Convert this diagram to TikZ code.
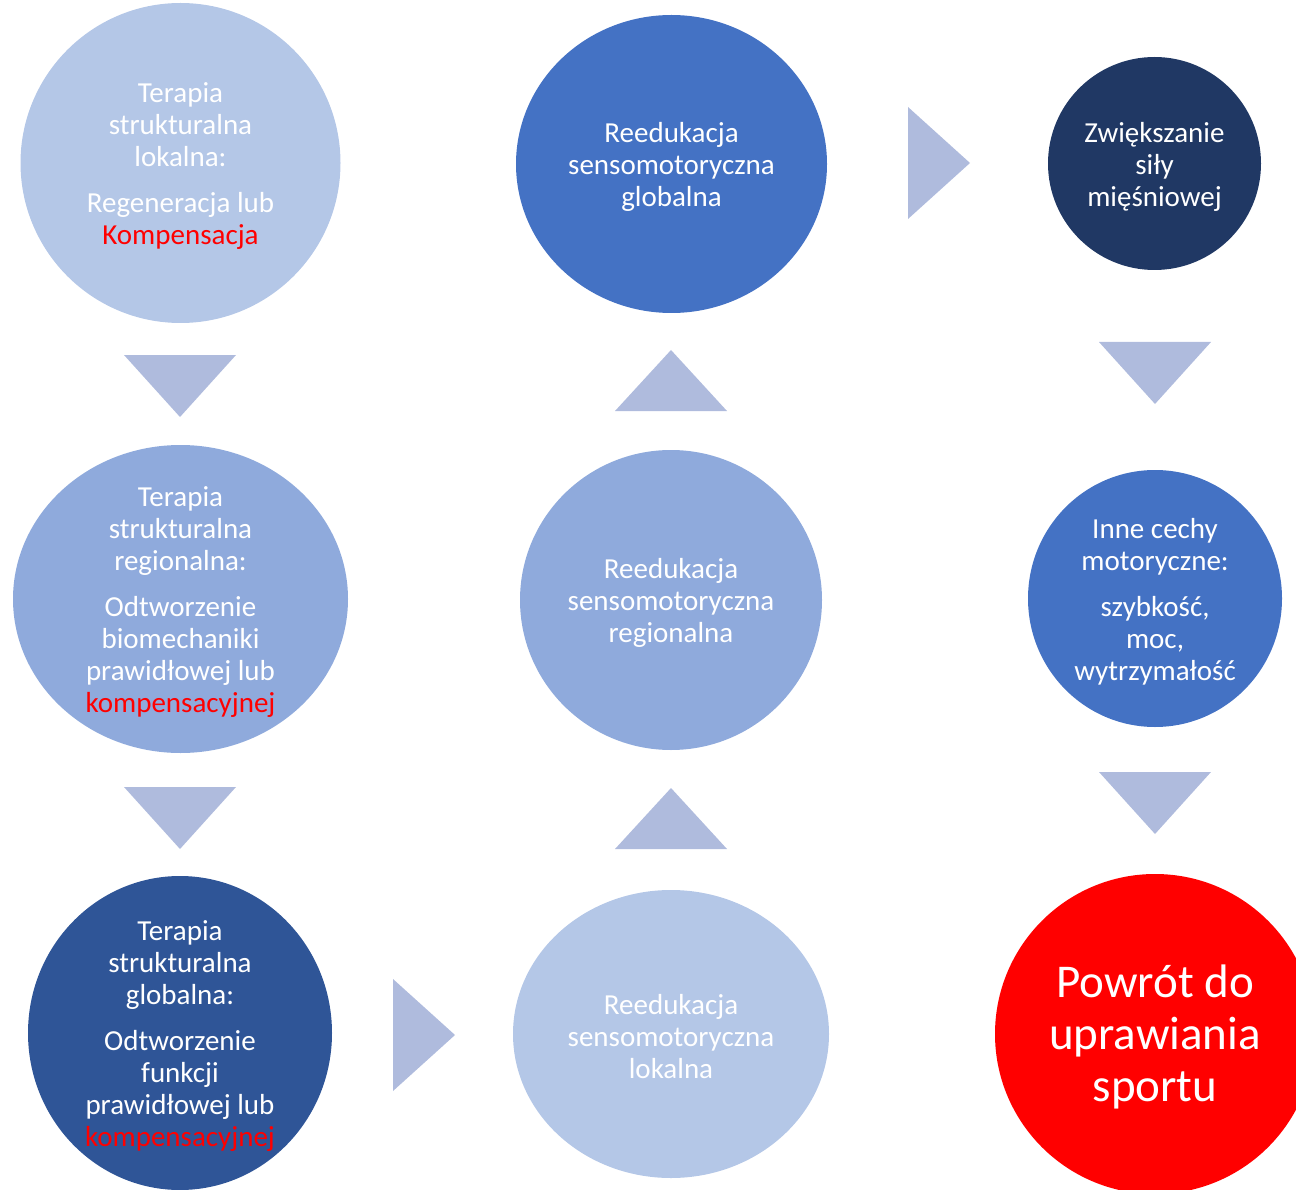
\documentclass[tikz,border=0pt]{standalone}
\usepackage{fontspec}
\setmainfont{Carlito}
\usetikzlibrary{shapes.geometric}

\definecolor{paleblue}{RGB}{180,199,231}
\definecolor{midblue}{RGB}{143,170,220}
\definecolor{accblue}{RGB}{68,114,196}
\definecolor{deepblue}{RGB}{47,85,151}
\definecolor{navyblue}{RGB}{32,56,100}
\definecolor{chevron}{RGB}{175,187,221}
\definecolor{hotred}{RGB}{255,0,0}

\tikzset{
  disc/.style={ellipse, draw=none, inner sep=0pt},
  lbl/.style={text=white, align=center, inner sep=0pt, yshift=-3pt, font=\fontsize{29}{32}\selectfont},
  tri/.style={fill=chevron, draw=none}
}
\newcommand{\alert}[1]{\textcolor{hotred}{#1}}

\begin{document}
\begin{tikzpicture}[x=1pt,y=1pt,yscale=-1,xscale=1]
\useasboundingbox (0,0) rectangle (1296,1190);

%Shape: Ellipse [column 1]
\node[disc, fill=paleblue, minimum width=320, minimum height=320] (c1) at (180.5,163) {};
\node[disc, fill=midblue, minimum width=335, minimum height=308] (c2) at (180.5,599) {};
\node[disc, fill=deepblue, minimum width=304, minimum height=314] (c3) at (180,1033) {};
%Shape: Ellipse [column 2]
\node[disc, fill=paleblue, minimum width=316, minimum height=288] (c4) at (671,1034) {};
\node[disc, fill=midblue, minimum width=302, minimum height=300] (c5) at (671,600) {};
\node[disc, fill=accblue, minimum width=311, minimum height=298] (c6) at (671.5,164) {};
%Shape: Ellipse [column 3]
\node[disc, fill=navyblue, minimum width=213, minimum height=213] (c7) at (1154.5,163.5) {};
\node[disc, fill=accblue, minimum width=254, minimum height=257] (c8) at (1155,598.5) {};
\node[disc, fill=hotred, minimum width=320, minimum height=320] (c9) at (1155,1034) {};

%Shape: Triangle [down]
\fill[tri] (124,355) -- (236,355) -- (180,417) -- cycle;
\fill[tri] (124,787) -- (236,787) -- (180,849) -- cycle;
%Shape: Triangle [right]
\fill[tri] (393,979) -- (455,1035) -- (393,1091) -- cycle;
%Shape: Triangle [up]
\fill[tri] (615,849) -- (727,849) -- (671,788) -- cycle;
\fill[tri] (615,411) -- (727,411) -- (671,350) -- cycle;
%Shape: Triangle [right]
\fill[tri] (908,107) -- (970,163) -- (908,219) -- cycle;
%Shape: Triangle [down]
\fill[tri] (1099,342) -- (1211,342) -- (1155,404) -- cycle;
\fill[tri] (1099,772) -- (1211,772) -- (1155,834) -- cycle;

% Text Node
\node[lbl] (t1) at (c1) {Terapia\\strukturalna\\lokalna:\\[14pt]Regeneracja lub\\\alert{Kompensacja}};
% Text Node
\node[lbl] (t2) at (c2) {Terapia\\strukturalna\\regionalna:\\[14pt]Odtworzenie\\biomechaniki\\prawidłowej lub\\\alert{kompensacyjnej}};
% Text Node
\node[lbl] (t3) at (c3) {Terapia\\strukturalna\\globalna:\\[14pt]Odtworzenie\\funkcji\\prawidłowej lub\\\alert{kompensacyjnej}};
% Text Node
\node[lbl] (t4) at (c4) {Reedukacja\\sensomotoryczna\\lokalna};
% Text Node
\node[lbl] (t5) at (c5) {Reedukacja\\sensomotoryczna\\regionalna};
% Text Node
\node[lbl] (t6) at (c6) {Reedukacja\\sensomotoryczna\\globalna};
% Text Node
\node[lbl] (t7) at (c7) {Zwiększanie\\siły\\mięśniowej};
% Text Node
\node[lbl] (t8) at (c8) {Inne cechy\\motoryczne:\\[14pt]szybkość,\\moc,\\wytrzymałość};
% Text Node
\node[lbl, font=\fontsize{47}{52}\selectfont] (t9) at (c9) {Powrót do\\uprawiania\\sportu};

\end{tikzpicture}
\end{document}
